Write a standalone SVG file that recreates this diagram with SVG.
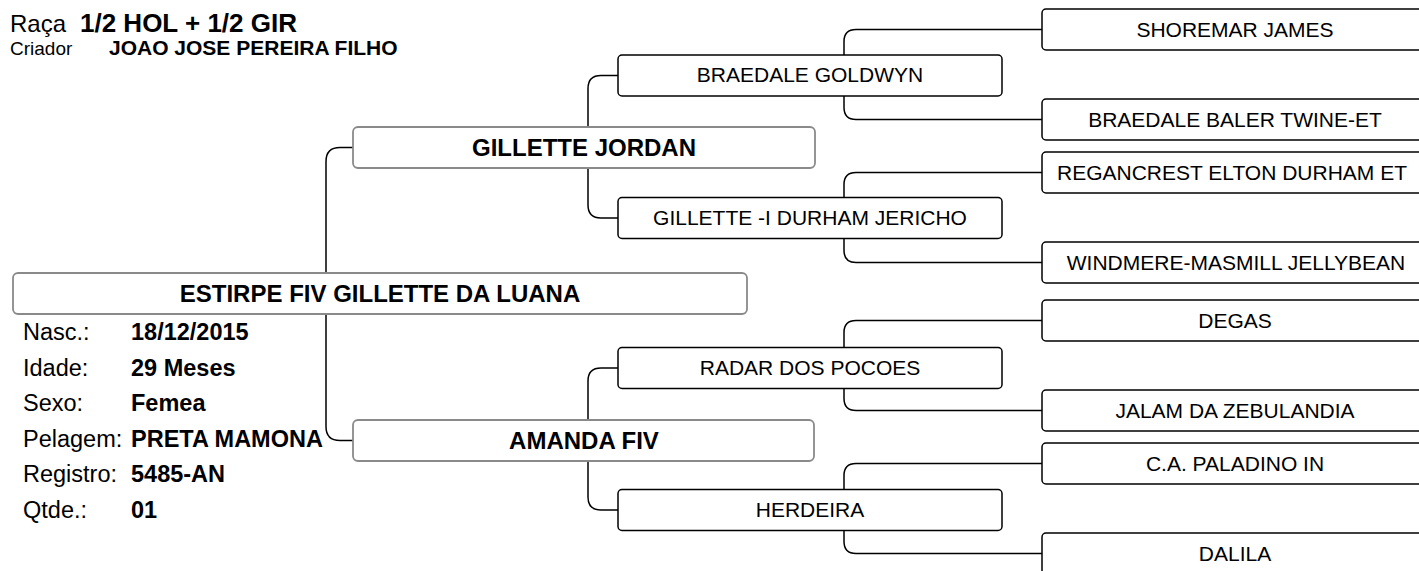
<svg xmlns="http://www.w3.org/2000/svg" width="1419" height="571" viewBox="0 0 1419 571">
<style>
text{font-family:"Liberation Sans",Arial,sans-serif;fill:#000}
.n{font-size:21px;text-anchor:middle}
.p{font-size:24px;font-weight:bold;text-anchor:middle}
.lab{font-size:23.5px}
.val{font-size:23.5px;font-weight:bold}
.b1{fill:#fff;stroke:#000;stroke-width:1.5}
.b2{fill:#fff;stroke:#8a8a8a;stroke-width:1.8}
.c{fill:none;stroke:#000;stroke-width:1.5}
</style>
<rect width="1419" height="571" fill="#fff"/>
<g id="header">
<text x="10" y="32" style="font-size:24px">Raça</text>
<text x="80" y="32" style="font-size:26px;font-weight:bold">1/2 HOL + 1/2 GIR</text>
<text x="10" y="55" style="font-size:19px">Criador</text>
<text x="109" y="55" style="font-size:21px;font-weight:bold">JOAO JOSE PEREIRA FILHO</text>
</g>
<g id="connectors">
<path class="c" d="M353,147.5 H340 Q326,147.5 326,161.5 V426.5 Q326,440.5 340,440.5 H353"/>
<path class="c" d="M618,75.5 H601 Q588,75.5 588,88.5 V205 Q588,218 601,218 H618"/>
<path class="c" d="M618,368 H601 Q588,368 588,381 V497 Q588,510 601,510 H618"/>
<path class="c" d="M1042,29.5 H856 Q844,29.5 844,41.5 V107.5 Q844,119.5 856,119.5 H1042"/>
<path class="c" d="M1042,172.5 H856 Q844,172.5 844,184.5 V250.5 Q844,262.5 856,262.5 H1042"/>
<path class="c" d="M1042,320.5 H856 Q844,320.5 844,332.5 V398.5 Q844,410.5 856,410.5 H1042"/>
<path class="c" d="M1042,463.5 H856 Q844,463.5 844,475.5 V541.5 Q844,553.5 856,553.5 H1042"/>
</g>
<g id="subject">
<rect class="b2" x="13" y="273" width="734" height="41" rx="5"/>
<text class="p" x="380" y="302">ESTIRPE FIV GILLETTE DA LUANA</text>
</g>
<g id="info">
<text class="lab" x="23" y="340">Nasc.:</text><text class="val" x="131" y="340">18/12/2015</text>
<text class="lab" x="23" y="375.5">Idade:</text><text class="val" x="131" y="375.5">29 Meses</text>
<text class="lab" x="23" y="411">Sexo:</text><text class="val" x="131" y="411">Femea</text>
<text class="lab" x="23" y="446.5">Pelagem:</text><text class="val" x="131" y="446.5">PRETA MAMONA</text>
<text class="lab" x="23" y="482">Registro:</text><text class="val" x="131" y="482">5485-AN</text>
<text class="lab" x="23" y="517.5">Qtde.:</text><text class="val" x="131" y="517.5">01</text>
</g>
<g id="sire">
<rect class="b2" x="353" y="127" width="462" height="41" rx="5"/>
<text class="p" x="584" y="156">GILLETTE JORDAN</text>
</g>
<g id="dam">
<rect class="b2" x="353" y="420" width="461" height="41" rx="5"/>
<text class="p" x="584" y="449">AMANDA FIV</text>
</g>
<g id="gp1">
<rect class="b1" x="618" y="55" width="384" height="41" rx="4"/>
<text class="n" x="810" y="82">BRAEDALE GOLDWYN</text>
</g>
<g id="gp2">
<rect class="b1" x="618" y="197.5" width="384" height="41" rx="4"/>
<text class="n" x="810" y="225">GILLETTE -I DURHAM JERICHO</text>
</g>
<g id="gp3">
<rect class="b1" x="618" y="347.5" width="384" height="41" rx="4"/>
<text class="n" x="810" y="375">RADAR DOS POCOES</text>
</g>
<g id="gp4">
<rect class="b1" x="618" y="489.5" width="384" height="41" rx="4"/>
<text class="n" x="810" y="517">HERDEIRA</text>
</g>
<g id="ggp1">
<rect class="b1" x="1042" y="9" width="386" height="41" rx="4"/>
<text class="n" x="1235" y="36.5">SHOREMAR JAMES</text>
</g>
<g id="ggp2">
<rect class="b1" x="1042" y="99" width="386" height="41" rx="4"/>
<text class="n" x="1235" y="126.5">BRAEDALE BALER TWINE-ET</text>
</g>
<g id="ggp3">
<rect class="b1" x="1042" y="152" width="386" height="41" rx="4"/>
<text class="n" x="1232" y="179.5">REGANCREST ELTON DURHAM ET</text>
</g>
<g id="ggp4">
<rect class="b1" x="1042" y="242" width="386" height="41" rx="4"/>
<text class="n" x="1236" y="269.5">WINDMERE-MASMILL JELLYBEAN</text>
</g>
<g id="ggp5">
<rect class="b1" x="1042" y="300" width="386" height="41" rx="4"/>
<text class="n" x="1235" y="327.5">DEGAS</text>
</g>
<g id="ggp6">
<rect class="b1" x="1042" y="390" width="386" height="41" rx="4"/>
<text class="n" x="1235" y="417.5">JALAM DA ZEBULANDIA</text>
</g>
<g id="ggp7">
<rect class="b1" x="1042" y="443" width="386" height="41" rx="4"/>
<text class="n" x="1235" y="470.5">C.A. PALADINO IN</text>
</g>
<g id="ggp8">
<rect class="b1" x="1042" y="533" width="386" height="41" rx="4"/>
<text class="n" x="1235" y="560.5">DALILA</text>
</g>
</svg>
